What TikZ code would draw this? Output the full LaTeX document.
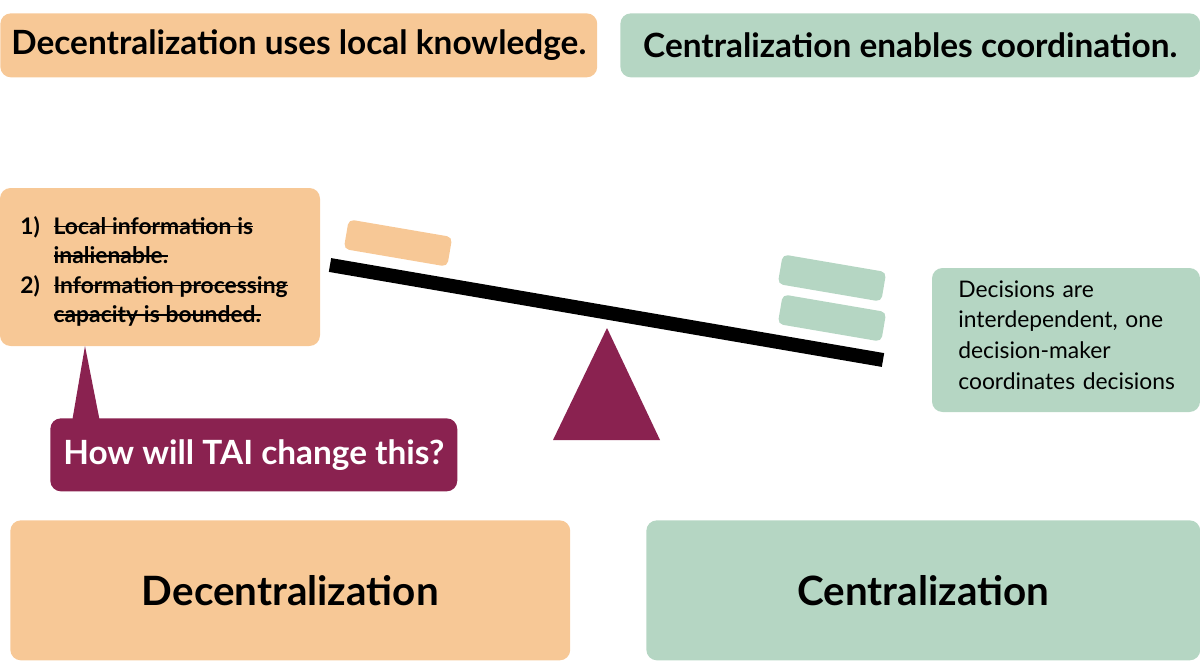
\documentclass[tikz,border=0pt]{standalone}
\usepackage{fontspec}
\setmainfont{Lato}
\definecolor{peach}{HTML}{F7C896}
\definecolor{sage}{HTML}{B5D6C3}
\definecolor{plum}{HTML}{8A2250}
\newlength\strklen
\newcommand\strk[1]{\settowidth\strklen{#1}\rlap{#1}\rule[0.3em]{\strklen}{0.07em}}
\tikzset{
  box/.style={rounded corners=6pt, inner sep=0pt},
  block/.style={rounded corners=3pt, minimum width=2.1cm, minimum height=0.6cm, inner sep=0pt},
}
\begin{document}
\begin{tikzpicture}[x=0.02cm,y=-0.02cm]
  \useasboundingbox (0,0) rectangle (1200,663);   % page
  % headlines
  \node[box, fill=peach, minimum width=11.94cm, minimum height=1.28cm, anchor=north west] (hdec) at (0,13)
    {\fontsize{19}{22}\selectfont\bfseries Decentralization uses local knowledge.};
  \node[box, fill=sage, minimum width=11.6cm, minimum height=1.28cm, anchor=north west] (hcen) at (620,13)
    {\fontsize{19}{22}\selectfont\bfseries Centralization enables coordination.};

  % left note and callout
  \fill[peach, rounded corners=6pt] (0,188) rectangle (320,346);
  \node[anchor=north west, text width=6cm, align=left, inner sep=0pt] (assum) at (20,213)
    {\fontsize{13}{16.8}\selectfont\bfseries
     \begin{tabular}{@{}r@{\hspace{0.6em}}l@{}}
     1) & \strk{Local information is}\\
        & \strk{inalienable.}\\
     2) & \strk{Information processing}\\
        & \strk{capacity is bounded.}
     \end{tabular}};
  \fill[plum] (85,346) -- (100,422) -- (72,422) -- cycle;
  \node[box, fill=plum, text=white, minimum width=8.14cm, minimum height=1.46cm, anchor=north west] (tai) at (50,418)
    {\fontsize{19}{22}\selectfont\bfseries How will TAI change this?};

  % seesaw
  \fill[plum] (607,328) -- (660,440) -- (553,440) -- cycle;
  \draw[line width=0.28cm] (330,265) -- (883,360);
  \node[block, fill=peach, rotate=-9.7] (wdec) at (398,243) {};
  \node[block, fill=sage, rotate=-9.7] (wcen1) at (832,278) {};
  \node[block, fill=sage, rotate=-9.7] (wcen2) at (832,318) {};

  % right note
  \fill[sage, rounded corners=6pt] (932,268) rectangle (1200,412);
  \node[anchor=north west, text width=6cm, align=left, inner sep=0pt, font=\fontsize{13}{17.5}\selectfont] (interd) at (958,280)
    {Decisions are\\ interdependent, one\\ decision-maker\\ coordinates decisions};

  % bottom labels
  \node[box, fill=peach, minimum width=11.2cm, minimum height=2.8cm, anchor=north west] (ldec) at (10,520)
    {\fontsize{23}{27}\selectfont\bfseries Decentralization};
  \node[box, fill=sage, minimum width=11.08cm, minimum height=2.8cm, anchor=north west] (lcen) at (646,520)
    {\fontsize{23}{27}\selectfont\bfseries Centralization};
\end{tikzpicture}
\end{document}
